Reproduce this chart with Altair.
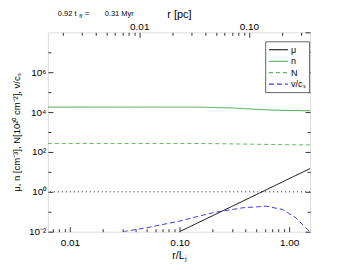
import altair as alt
import pandas as pd

# ---- data ----
L_J_PC = 0.233                     # 1 L_J in pc (top axis conversion)
X_DOMAIN = [0.0063, 1.55]          # r / L_J
Y_DOMAIN = [1e-2, 1e8]

series_names = ["μ", "n", "N", "v/cₛ"]
series_colors = ["#000000", "#4aa84a", "#5db85d", "#3c3cf0"]
series_dashes = [[1, 0], [1, 0], [4, 3], [5, 3]]

r_mu = [0.1, 0.2, 0.5, 1.0, 1.55]
mu = [0.01, 0.063, 0.72, 4.57, 14.7]

r_n = [0.0063, 0.05, 0.152, 0.3, 0.5, 0.7, 1.0, 1.55]
n = [1.78e4, 1.78e4, 1.77e4, 1.6e4, 1.38e4, 1.26e4, 1.2e4, 1.16e4]

r_N = [0.0063, 0.1, 0.174, 0.3, 0.46, 0.7, 1.0, 1.55]
N = [269, 269, 263, 254, 245, 236, 230, 224]

r_v = [0.0305, 0.05, 0.1, 0.2, 0.376, 0.615, 0.87, 1.15, 1.41, 1.55]
v = [0.01, 0.0158, 0.034, 0.089, 0.158, 0.19, 0.13, 0.05, 0.016, 0.01]

x_major = [0.01, 0.1, 1.0]
x_minor = [0.007, 0.008, 0.009, 0.02, 0.03, 0.04, 0.05, 0.06, 0.07, 0.08, 0.09,
           0.2, 0.3, 0.4, 0.5, 0.6, 0.7, 0.8, 0.9]
pc_major = [0.01, 0.1]
pc_minor = [0.002, 0.003, 0.004, 0.005, 0.006, 0.007, 0.008, 0.009,
            0.02, 0.03, 0.04, 0.05, 0.06, 0.07, 0.08, 0.09, 0.2, 0.3]
y_major = [1e-2, 1e0, 1e2, 1e4, 1e6]
y_minor = [1e-1, 1e1, 1e3, 1e5, 1e7]

ref_level = [1.0]
anno_time = ["0.92 t", "ff", "=", "0.31 Myr"]

# ---- tables ----
rows = []
for name, rs, vs in [("μ", r_mu, mu), ("n", r_n, n), ("N", r_N, N), ("v/cₛ", r_v, v)]:
    for r, val in zip(rs, vs):
        rows.append({"r": r, "val": val, "series": name})
df = pd.DataFrame(rows)
dummy = pd.DataFrame({"r": X_DOMAIN, "val": [1.0, 1.0]})
dummy["rpc"] = dummy["r"] * L_J_PC
ref_df = pd.DataFrame({"y": ref_level})

FONT = "Liberation Sans"
xs = alt.Scale(type="log", domain=X_DOMAIN, nice=False)
ys = alt.Scale(type="log", domain=Y_DOMAIN, nice=False)
pcs = alt.Scale(type="log", domain=[X_DOMAIN[0] * L_J_PC, X_DOMAIN[1] * L_J_PC], nice=False)

common = dict(grid=False, domain=False, tickColor="black", labelColor="black",
              titleColor="black", labelFont=FONT, titleFont=FONT, tickWidth=0.8)

ylabel_expr = ("round(log(datum.value)/LN10) == -2 ? '10⁻²' : "
               "round(log(datum.value)/LN10) == 0 ? '10⁰' : "
               "round(log(datum.value)/LN10) == 2 ? '10²' : "
               "round(log(datum.value)/LN10) == 4 ? '10⁴' : '10⁶'")

ax_x_major = alt.Axis(orient="bottom", values=x_major, tickSize=5, offset=-5,
                      labelExpr="datum.value < 0.05 ? '0.01' : datum.value < 0.5 ? '0.10' : '1.00'",
                      labelFontSize=10, labelPadding=6, title="r/Lⱼ", titleFontSize=10.5,
                      titleFontWeight="normal", titlePadding=3, **common)
ax_x_minor = alt.Axis(orient="bottom", values=x_minor, tickSize=3, offset=-3,
                      labels=False, title=None, **common)
ax_y_major = alt.Axis(orient="left", values=y_major, tickSize=5, offset=-5,
                      labelExpr=ylabel_expr, labelFontSize=10, labelPadding=2,
                      title="μ, n [cm⁻³], N[10²⁰ cm⁻²], v/cₛ", titleFontSize=9.5,
                      titleFontWeight="normal", titlePadding=7, **common)
ax_y_minor = alt.Axis(orient="left", values=y_minor, tickSize=3, offset=-3,
                      labels=False, title=None, **common)
ax_r_major = alt.Axis(orient="right", values=y_major + [1e8], tickSize=5, offset=-5,
                      labels=False, title=None, **common)
ax_r_minor = alt.Axis(orient="right", values=y_minor, tickSize=3, offset=-3,
                      labels=False, title=None, **common)
ax_t_major = alt.Axis(orient="top", values=pc_major, tickSize=5, offset=-5,
                      labelExpr="datum.value < 0.05 ? '0.01' : '0.10'",
                      labelFontSize=10, labelPadding=1, title="r [pc]", titleFontSize=11,
                      titleFontWeight="normal", titlePadding=2, **common)
ax_t_minor = alt.Axis(orient="top", values=pc_minor, tickSize=3, offset=-3,
                      labels=False, title=None, **common)

legend_opts = dict(title=None, orient="none", legendX=218, legendY=9,
                   symbolType="M-1,0L3,0", symbolSize=90, symbolStrokeWidth=1.2,
                   labelFont=FONT, labelFontSize=9, labelColor="black",
                   rowPadding=0.5, labelOffset=12, padding=3,
                   strokeColor="#666666", fillColor="white")

lines = alt.Chart(df).mark_line(clip=True, strokeWidth=1).encode(
    x=alt.X("r:Q", scale=xs, axis=ax_x_major),
    y=alt.Y("val:Q", scale=ys, axis=ax_y_major),
    color=alt.Color("series:N", scale=alt.Scale(domain=series_names, range=series_colors),
                    legend=alt.Legend(**legend_opts)),
    strokeDash=alt.StrokeDash("series:N", scale=alt.Scale(domain=series_names, range=series_dashes),
                              legend=alt.Legend(**legend_opts)),
)

minor_ax = alt.Chart(dummy).mark_point(opacity=0).encode(
    x=alt.X("r:Q", scale=xs, axis=ax_x_minor),
    y=alt.Y("val:Q", scale=ys, axis=ax_y_minor),
)
top_major = alt.Chart(dummy).mark_point(opacity=0).encode(
    x=alt.X("rpc:Q", scale=pcs, axis=ax_t_major),
    y=alt.Y("val:Q", scale=ys, axis=ax_r_major),
)
top_minor = alt.Chart(dummy).mark_point(opacity=0).encode(
    x=alt.X("rpc:Q", scale=pcs, axis=ax_t_minor),
    y=alt.Y("val:Q", scale=ys, axis=ax_r_minor),
)

ref = alt.Chart(ref_df).mark_rule(color="black", strokeDash=[1, 3], strokeWidth=0.9).encode(
    y=alt.Y("y:Q", scale=ys, axis=None)
)

def txt(s, x, y, size):
    return alt.Chart(ref_df).mark_text(align="left", baseline="middle", font=FONT,
                                       fontSize=size, color="black").encode(
        x=alt.value(x), y=alt.value(y), text=alt.value(s))

anno = (txt(anno_time[0], 10, -18, 7.5) + txt(anno_time[1], 31.5, -16, 5.5)
        + txt(anno_time[2], 37, -18, 7.5) + txt(anno_time[3], 57, -18, 7.5))

chart = alt.layer(lines, minor_ax, top_major, top_minor, ref, anno).resolve_scale(
    x="independent", y="independent"
).properties(
    width=263, height=200,
    autosize=alt.AutoSizeParams(type="none"),
    padding={"left": 40, "top": 24, "right": 20, "bottom": 30},
).configure_view(stroke="black", strokeWidth=1).configure(background="white")

chart.save("out.html", embed_options={"renderer": "svg", "actions": False})
